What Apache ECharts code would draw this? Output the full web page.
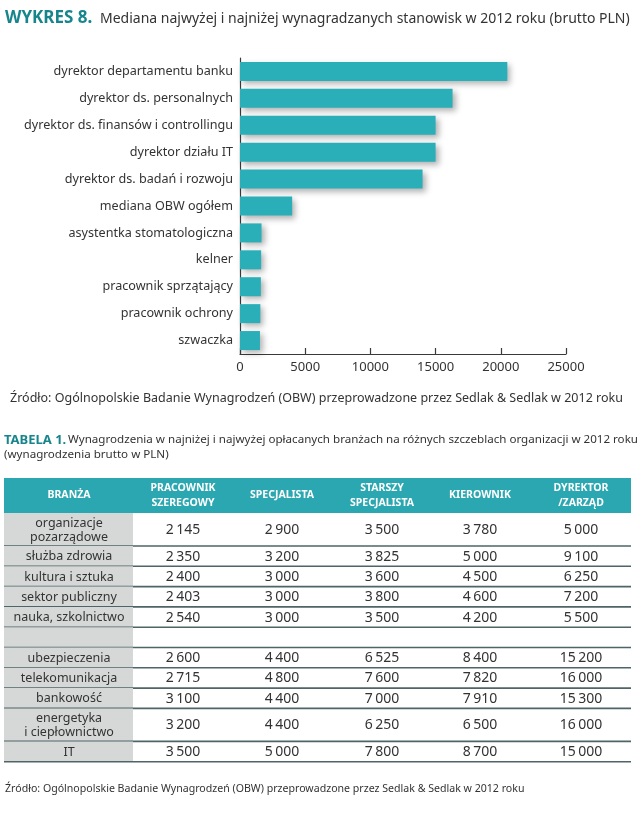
<!DOCTYPE html>
<html><head><meta charset="utf-8">
<script src="https://cdn.jsdelivr.net/npm/echarts@6/dist/echarts.min.js"></script>
<style>html,body{margin:0;padding:0;background:#fff}#c{width:640px;height:813px}</style>
</head><body><div id="c"></div>
<script>
// ---- chart data ----
const stanowiska = ['dyrektor departamentu banku','dyrektor ds. personalnych','dyrektor ds. finansów i controllingu','dyrektor działu IT','dyrektor ds. badań i rozwoju','mediana OBW ogółem','asystentka stomatologiczna','kelner','pracownik sprzątający','pracownik ochrony','szwaczka'];
const mediana = [20500, 16300, 15000, 15000, 14000, 4000, 1650, 1620, 1600, 1560, 1530];
const xTicks = [0, 5000, 10000, 15000, 20000, 25000];

// ---- table data ----
const tabelaNaglowki = ['BRANŻA', 'PRACOWNIK\nSZEREGOWY', 'SPECJALISTA', 'STARSZY\nSPECJALISTA', 'KIEROWNIK', 'DYREKTOR\n/ZARZĄD'];
const branze = ['organizacje\npozarządowe','służba zdrowia','kultura i sztuka','sektor publiczny','nauka, szkolnictwo','','ubezpieczenia','telekomunikacja','bankowość','energetyka\ni ciepłownictwo','IT'];
const pracownikSzeregowy = [2145, 2350, 2400, 2403, 2540, null, 2600, 2715, 3100, 3200, 3500];
const specjalista = [2900, 3200, 3000, 3000, 3000, null, 4400, 4800, 4400, 4400, 5000];
const starszySpecjalista = [3500, 3825, 3600, 3800, 3500, null, 6525, 7600, 7000, 6250, 7800];
const kierownik = [3780, 5000, 4500, 4600, 4200, null, 8400, 7820, 7910, 6500, 8700];
const dyrektorZarzad = [5000, 9100, 6250, 7200, 5500, null, 15200, 16000, 15300, 16000, 15000];

const tytul = 'Mediana najwyżej i najniżej wynagradzanych stanowisk w 2012 roku (brutto PLN)';
const zrodlo = 'Źródło: Ogólnopolskie Badanie Wynagrodzeń (OBW) przeprowadzone przez Sedlak & Sedlak w 2012 roku';
const tabelaTytul = 'Wynagrodzenia w najniżej i najwyżej opłacanych branżach na różnych szczeblach organizacji w 2012 roku';
const tabelaPodtytul = '(wynagrodzenia brutto w PLN)';

// ---- layout / styles ----
const FONT = '"Noto Sans", "Open Sans", sans-serif';
const TEAL = '#2aaeb8';
const TEAL_DARK = '#17858c';
const TEXT = '#333333';

function fmt(v) {
  if (v == null) return '';
  const s = String(v);
  return s.length > 3 ? s.slice(0, s.length - 3) + '\u2009' + s.slice(-3) : s;
}

const g = [];
function txt(x, y, text, font, fill, align, valign) {
  g.push({ type: 'text', x: x, y: y, silent: true,
    style: { text: text, font: font, fill: fill, textAlign: align || 'left', align: align || 'left',
      textVerticalAlign: valign || 'middle', verticalAlign: valign || 'middle' } });
}
// Title
txt(5, 18, 'WYKRES 8.', 'bold 17px ' + FONT, TEAL_DARK);
txt(100, 19, tytul, '14px ' + FONT, TEXT);
// source 1
txt(10, 398, zrodlo, '12.5px ' + FONT, TEXT);
// table title
txt(4, 440, 'TABELA 1.', 'bold 13px ' + FONT, TEAL_DARK);
txt(68, 440, tabelaTytul, '11.6px ' + FONT, TEXT);
txt(4, 455, tabelaPodtytul, '11.6px ' + FONT, TEXT);
// source 2
txt(5, 789, zrodlo, '10.6px ' + FONT, TEXT);

// table geometry
const tLeft = 4, tRight = 631, firstColRight = 133;
const colCenters = [69, 183, 282, 382, 480, 581];
const headTop = 478, headBottom = 513;
g.push({ type: 'rect', shape: { x: tLeft, y: headTop, width: tRight - tLeft, height: headBottom - headTop }, style: { fill: '#2aa7b0' }, silent: true });
tabelaNaglowki.forEach((h, i) => {
  g.push({ type: 'text', x: colCenters[i], y: (headTop + headBottom) / 2, silent: true,
    style: { text: h, font: 'bold 10.5px ' + FONT, fill: '#ffffff', textAlign: 'center', align: 'center',
      textVerticalAlign: 'middle', verticalAlign: 'middle', lineHeight: 15 } });
});
const cols = [pracownikSzeregowy, specjalista, starszySpecjalista, kierownik, dyrektorZarzad];
let y = headBottom;
branze.forEach((b, r) => {
  const h = b.indexOf('\n') >= 0 ? 33 : 20.3;
  g.push({ type: 'rect', shape: { x: tLeft, y: y, width: firstColRight - tLeft, height: h }, style: { fill: '#d6d7d7' }, silent: true });
  g.push({ type: 'text', x: colCenters[0], y: y + h / 2 + 0.5, silent: true,
    style: { text: b, font: '12.5px ' + FONT, fill: TEXT, textAlign: 'center', align: 'center',
      textVerticalAlign: 'middle', verticalAlign: 'middle', lineHeight: 14 } });
  cols.forEach((c, ci) => {
    txt(colCenters[ci + 1], y + h / 2 + 0.5, fmt(c[r]), '14px ' + FONT, TEXT, 'center');
  });
  y += h;
  g.push({ type: 'line', shape: { x1: tLeft, y1: y, x2: tRight, y2: y }, style: { stroke: '#4e6466', lineWidth: 1.6 }, silent: true });
});

const chart = echarts.init(document.getElementById('c'), null, { renderer: 'canvas' });
chart.setOption({
  backgroundColor: '#ffffff',
  animation: false,
  grid: { left: 240, top: 58, width: 326, height: 296, containLabel: false },
  xAxis: {
    type: 'value', min: xTicks[0], max: xTicks[xTicks.length - 1], interval: xTicks[1] - xTicks[0],
    axisLine: { show: true, lineStyle: { color: '#3a3a3a', width: 1.2 } },
    axisTick: { show: true, inside: true, length: 6, lineStyle: { color: '#3a3a3a', width: 1.2 } },
    axisLabel: { color: TEXT, fontFamily: FONT, fontSize: 13, margin: 7, formatter: v => String(v) },
    splitLine: { show: false }
  },
  yAxis: {
    type: 'category', data: stanowiska, inverse: true,
    axisLine: { show: true, lineStyle: { color: '#3a3a3a', width: 1.2 } },
    axisTick: { show: false },
    axisLabel: { color: TEXT, fontFamily: FONT, fontSize: 12.6, margin: 7 }
  },
  series: [{
    type: 'bar', data: mediana, barWidth: 19,
    itemStyle: { color: TEAL, shadowColor: 'rgba(0,0,0,0.3)', shadowBlur: 6, shadowOffsetX: 3, shadowOffsetY: 3 }
  }],
  graphic: g
});
</script></body></html>
